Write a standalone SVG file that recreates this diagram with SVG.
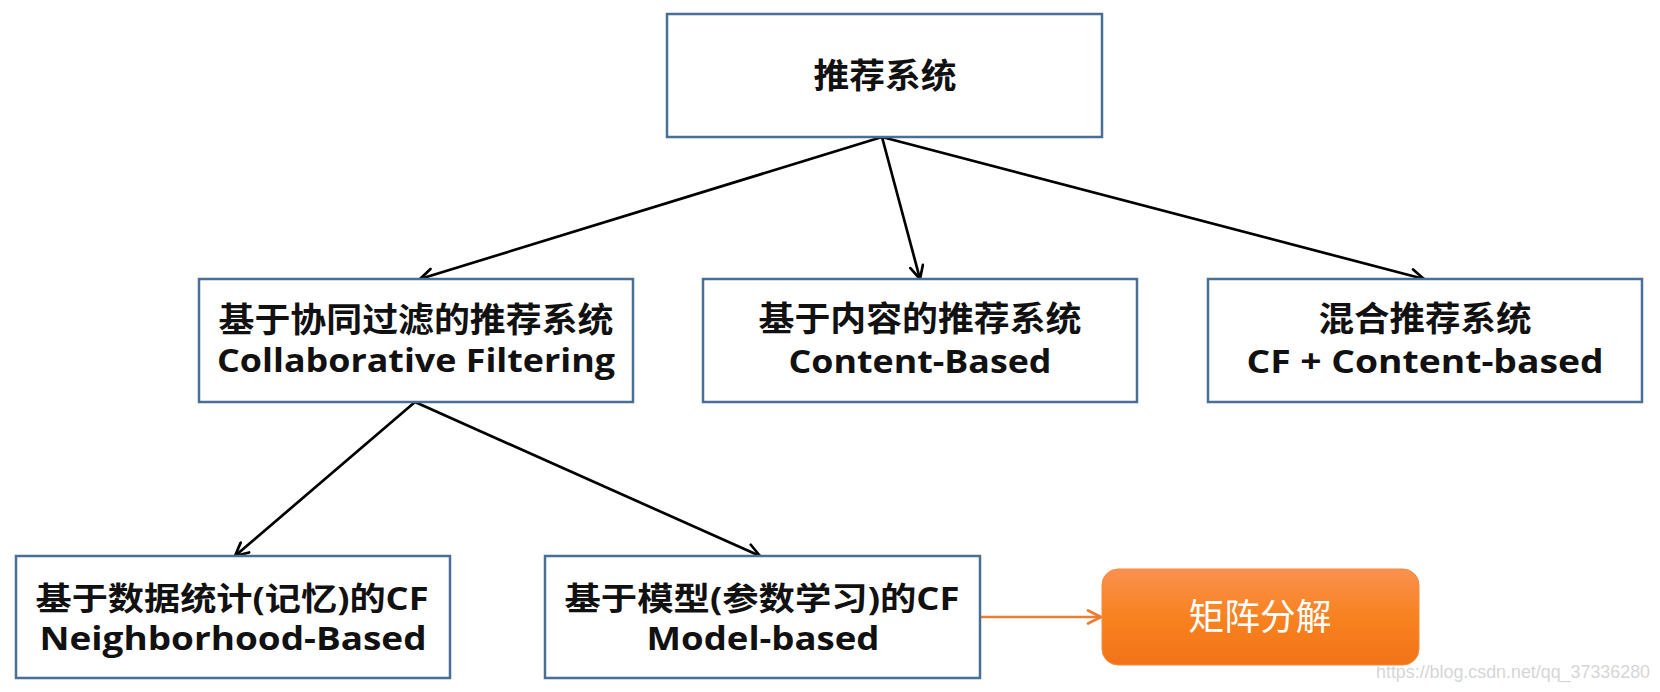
<svg xmlns="http://www.w3.org/2000/svg" width="1660" height="692" viewBox="0 0 1660 692">
<style>
.box{fill:#ffffff;stroke:#4a6f97;stroke-width:2.5}
.t{font-family:"Open Sans","Noto Sans CJK SC",sans-serif;font-weight:700;font-size:32px;fill:#111111;text-anchor:middle}
.c{font-family:"Noto Sans CJK SC",sans-serif;font-weight:700;font-size:34px;fill:#111111;text-anchor:middle}
.edge{stroke:#000000;stroke-width:2.7;fill:none}
.oedge{stroke:#ed7d31;stroke-width:2.7;fill:none}
.wm{font-family:"Liberation Sans",Arial,sans-serif;font-size:18px;fill:#d6d6d6}
</style>
<defs>
<marker id="ah" viewBox="0 0 16 16" refX="15" refY="8" markerWidth="16" markerHeight="16" markerUnits="userSpaceOnUse" orient="auto">
<path d="M2,1.5 L15,8 L2,14.5" fill="none" stroke="#000000" stroke-width="2.7" stroke-linecap="round" stroke-linejoin="round"/>
</marker>
<marker id="aho" viewBox="0 0 16 16" refX="15" refY="8" markerWidth="16" markerHeight="16" markerUnits="userSpaceOnUse" orient="auto">
<path d="M2,1.5 L15,8 L2,14.5" fill="none" stroke="#ed7d31" stroke-width="2.7" stroke-linecap="round" stroke-linejoin="round"/>
</marker>
<linearGradient id="og" x1="0" y1="0" x2="0" y2="1">
<stop offset="0" stop-color="#fa9150"/>
<stop offset="0.5" stop-color="#f8821f"/>
<stop offset="1" stop-color="#f27318"/>
</linearGradient>
</defs>
<rect width="1660" height="692" fill="#ffffff"/>

<g id="connectors">
<line class="edge" x1="882" y1="137" x2="420" y2="279" marker-end="url(#ah)"/>
<line class="edge" x1="882" y1="137" x2="920" y2="279" marker-end="url(#ah)"/>
<line class="edge" x1="882" y1="137" x2="1424" y2="279" marker-end="url(#ah)"/>
<line class="edge" x1="415" y1="402" x2="235" y2="556" marker-end="url(#ah)"/>
<line class="edge" x1="415" y1="402" x2="760" y2="556" marker-end="url(#ah)"/>
<line class="oedge" x1="980" y1="617" x2="1101" y2="617" marker-end="url(#aho)"/>
</g>

<g id="root">
<rect class="box" x="667" y="14" width="435" height="123"/>
<text class="c" x="885" y="88" textLength="143" lengthAdjust="spacingAndGlyphs">推荐系统</text>
</g>

<g id="cf">
<rect class="box" x="199" y="279" width="434" height="123"/>
<text class="c" x="416" y="332" textLength="395" lengthAdjust="spacingAndGlyphs">基于协同过滤的推荐系统</text>
<text class="t" x="416" y="372" textLength="398" lengthAdjust="spacingAndGlyphs">Collaborative Filtering</text>
</g>

<g id="content">
<rect class="box" x="703" y="279" width="434" height="123"/>
<text class="c" x="920" y="331" textLength="323" lengthAdjust="spacingAndGlyphs">基于内容的推荐系统</text>
<text class="t" x="920" y="373" textLength="263" lengthAdjust="spacingAndGlyphs">Content-Based</text>
</g>

<g id="hybrid">
<rect class="box" x="1208" y="279" width="434" height="123"/>
<text class="c" x="1425" y="331" textLength="213" lengthAdjust="spacingAndGlyphs">混合推荐系统</text>
<text class="t" x="1425" y="373" textLength="357" lengthAdjust="spacingAndGlyphs">CF + Content-based</text>
</g>

<g id="neighborhood">
<rect class="box" x="16" y="556" width="434" height="122"/>
<text class="t" x="232" y="610" textLength="393" lengthAdjust="spacingAndGlyphs">基于数据统计(记忆)的CF</text>
<text class="t" x="233" y="650" textLength="387" lengthAdjust="spacingAndGlyphs">Neighborhood-Based</text>
</g>

<g id="model">
<rect class="box" x="545" y="556" width="435" height="122"/>
<text class="t" x="762" y="610" textLength="395" lengthAdjust="spacingAndGlyphs">基于模型(参数学习)的CF</text>
<text class="t" x="763" y="650" textLength="233" lengthAdjust="spacingAndGlyphs">Model-based</text>
</g>

<g id="mf">
<rect x="1102" y="569" width="317" height="96" rx="16" ry="16" fill="url(#og)" stroke="#f58a3c" stroke-width="1"/>
<text x="1260" y="630" font-family="'Noto Sans CJK SC',sans-serif" font-size="36" fill="#ffffff" text-anchor="middle" textLength="143" lengthAdjust="spacingAndGlyphs">矩阵分解</text>
</g>

<text class="wm" x="1376" y="678" textLength="274" lengthAdjust="spacingAndGlyphs">https://blog.csdn.net/qq_37336280</text>
</svg>
